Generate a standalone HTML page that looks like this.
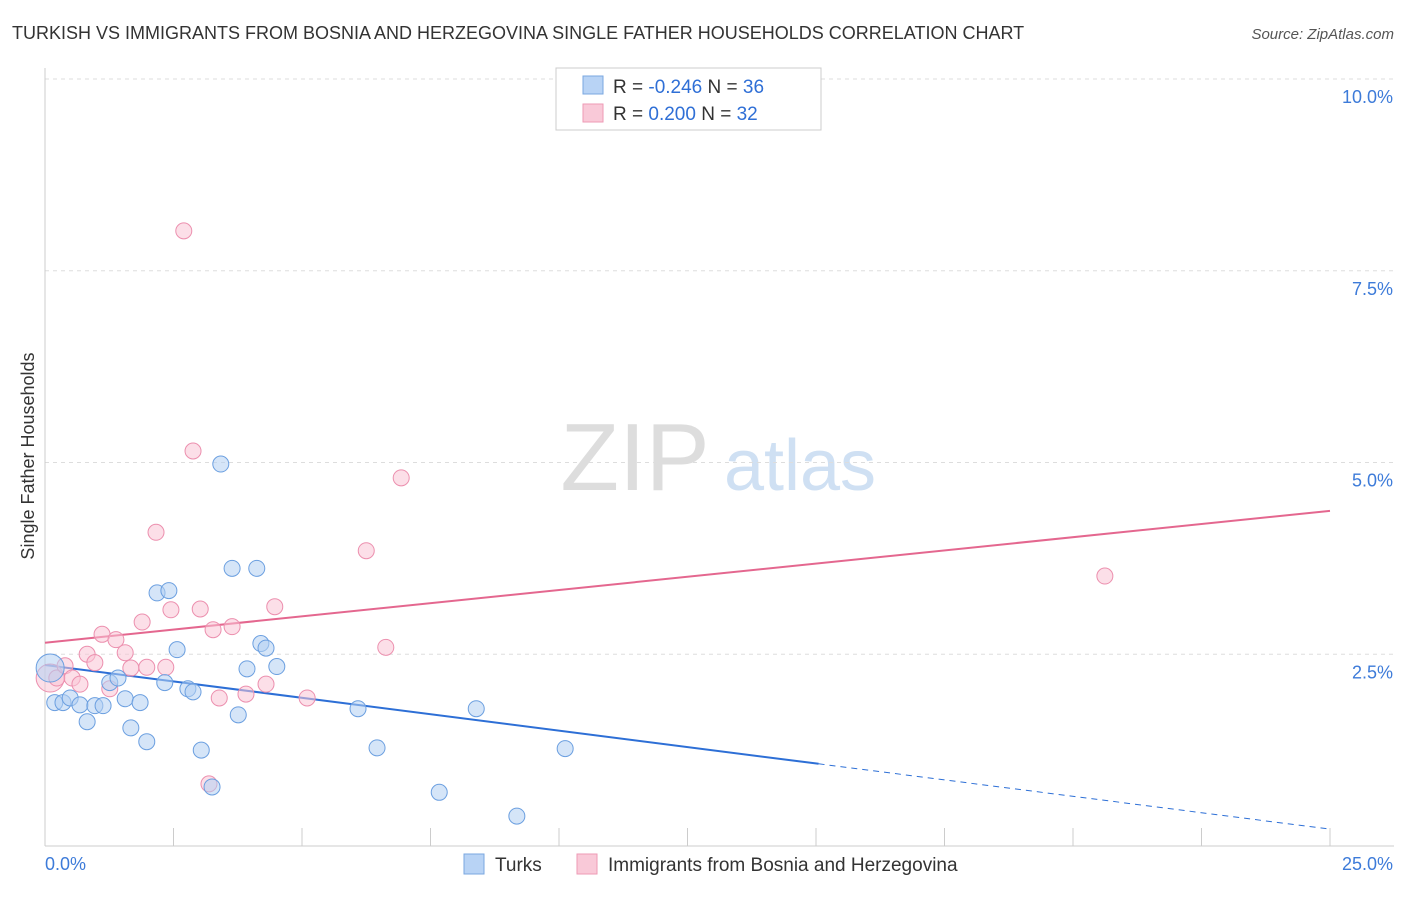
<!DOCTYPE html>
<html><head><meta charset="utf-8">
<style>
body{margin:0;background:#fff;font-family:"Liberation Sans",sans-serif;}
svg text{font-family:"Liberation Sans",sans-serif;}
</style></head>
<body>
<svg id="chart" width="1406" height="892" xmlns="http://www.w3.org/2000/svg">
<text x="12" y="39" font-size="18" fill="#333">TURKISH VS IMMIGRANTS FROM BOSNIA AND HERZEGOVINA SINGLE FATHER HOUSEHOLDS CORRELATION CHART</text>
<text x="1394" y="39" font-size="15" fill="#555" text-anchor="end" font-style="italic">Source: ZipAtlas.com</text>
<text x="34" y="456" font-size="18" fill="#333" text-anchor="middle" transform="rotate(-90 34 456)">Single Father Households</text>
<g>
<text x="635" y="490" font-size="96" fill="#ddd" text-anchor="middle" font-family="Liberation Serif">ZIP</text>
<text x="800" y="490" font-size="72" fill="#cfe0f3" text-anchor="middle">atlas</text>
</g>
<g id="grid"></g>
<g id="axes"></g>
<g id="trends"></g>
<g id="points"></g>
<g>
<rect x="556" y="68" width="265" height="62" fill="#fff" stroke="#ccc"/>
<rect x="583" y="76" width="20" height="18" fill="#b8d3f5" stroke="#7aa7e0"/>
<text x="613" y="93" font-size="19" fill="#333">R = <tspan fill="#2f6fd6">-0.246</tspan>   N = <tspan fill="#2f6fd6">36</tspan></text>
<rect x="583" y="104" width="20" height="18" fill="#f9c9d8" stroke="#ee9ab5"/>
<text x="613" y="120" font-size="19" fill="#333">R =  <tspan fill="#2f6fd6">0.200</tspan>   N = <tspan fill="#2f6fd6">32</tspan></text>
</g>
<g>
<rect x="464" y="854" width="20" height="20" fill="#b8d3f5" stroke="#7aa7e0"/>
<text x="495" y="871" font-size="19" fill="#333">Turks</text>
<rect x="577" y="854" width="20" height="20" fill="#f9c9d8" stroke="#ee9ab5"/>
<text x="608" y="871" font-size="19" fill="#333">Immigrants from Bosnia and Herzegovina</text>
</g>
</svg>
<script>
const blueX=[0.10,0.19,0.35,0.49,0.68,0.82,0.97,1.13,1.26,1.42,1.56,1.67,1.85,1.98,2.18,2.41,2.33,2.57,2.78,2.88,3.04,3.25,3.42,3.64,3.76,3.93,4.12,4.20,4.30,4.51,6.09,6.46,7.67,8.39,9.18,10.12];
const blueY=[2.32,1.87,1.87,1.93,1.84,1.62,1.83,1.83,2.13,2.19,1.92,1.54,1.87,1.36,3.30,3.33,2.13,2.56,2.05,2.01,1.25,0.77,4.98,3.62,1.71,2.31,3.62,2.64,2.58,2.34,1.79,1.28,0.70,1.79,0.39,1.27];
const pinkX=[0.10,0.23,0.39,0.53,0.68,0.82,0.97,1.11,1.26,1.38,1.56,1.67,1.89,1.98,2.16,2.35,2.45,2.70,2.88,3.02,3.19,3.27,3.39,3.64,3.91,4.30,4.47,5.10,6.25,6.63,6.93,20.62];
const pinkY=[2.19,2.19,2.35,2.19,2.11,2.50,2.39,2.76,2.05,2.69,2.52,2.32,2.92,2.33,4.09,2.33,3.08,8.02,5.15,3.09,0.81,2.82,1.93,2.86,1.98,2.11,3.12,1.93,3.85,2.59,4.80,3.52];
const blueTrend=[2.36,0.22];
const pinkTrend=[2.65,4.37];
const yTicks=[2.5,5.0,7.5,10.0];
const yTickLabels=["2.5%","5.0%","7.5%","10.0%"];
const xTicks=[0,2.5,5,7.5,10,12.5,15,17.5,20,22.5,25];

const NS="http://www.w3.org/2000/svg";
const sx=v=>45+v*51.4;
const sy=v=>846-v*76.7;
function mk(parent,tag,attrs){const e=document.createElementNS(NS,tag);for(const k in attrs)e.setAttribute(k,attrs[k]);document.getElementById(parent).appendChild(e);return e;}

yTicks.forEach((t,i)=>{
  const l=mk('grid','line',{x1:45,x2:1394,y1:sy(t),y2:sy(t),stroke:'#ddd','stroke-dasharray':'4,4'});
  
  
  const tx=mk('grid','text',{x:1393,y:sy(t)+24,'font-size':18,fill:'#3d7bd9','text-anchor':'end'});
  tx.textContent=yTickLabels[i];
  
  
});
const ax=mk('axes','line',{x1:45,x2:1394,y1:846,y2:846,stroke:'#ccc'});


const ay=mk('axes','line',{x1:45,x2:45,y1:68,y2:846,stroke:'#ccc'});


xTicks.forEach(t=>{
  const l=mk('axes','line',{x1:sx(t),x2:sx(t),y1:828,y2:846,stroke:'#ccc'});
  
  
});
const xl0=mk('axes','text',{x:45,y:870,'font-size':18,fill:'#3d7bd9'});xl0.textContent=xTicks[0].toFixed(1)+"%";


const xl1=mk('axes','text',{x:1393,y:870,'font-size':18,fill:'#3d7bd9','text-anchor':'end'});xl1.textContent=xTicks[xTicks.length-1].toFixed(1)+"%";



// trends
const bEnd=15.05;
const bAt=x=>blueTrend[0]+(blueTrend[1]-blueTrend[0])*x/25;
const bt=mk('trends','line',{x1:sx(0),y1:sy(bAt(0)),x2:sx(bEnd),y2:sy(bAt(bEnd)),stroke:'#2d6fd6','stroke-width':2});


const bd=mk('trends','line',{x1:sx(bEnd),y1:sy(bAt(bEnd)),x2:sx(25),y2:sy(bAt(25)),stroke:'#2d6fd6','stroke-width':1,'stroke-dasharray':'6,5'});


const pt=mk('trends','line',{x1:sx(0),y1:sy(pinkTrend[0]),x2:sx(25),y2:sy(pinkTrend[1]),stroke:'#e4678f','stroke-width':2});



function dots(xs,ys,fill,stroke,name){
  xs.forEach((x,i)=>{
    const c=mk('points','circle',{cx:sx(x),cy:sy(ys[i]),r:i===0?14:8,fill:fill,'fill-opacity':0.55,stroke:stroke,'stroke-width':1});
    
    
  });
}
dots(pinkX,pinkY,'#f9c4d5','#ec8fae','bosnia-point');
dots(blueX,blueY,'#b3cff3','#6b9fe0','turks-point');
</script>
</body></html>
